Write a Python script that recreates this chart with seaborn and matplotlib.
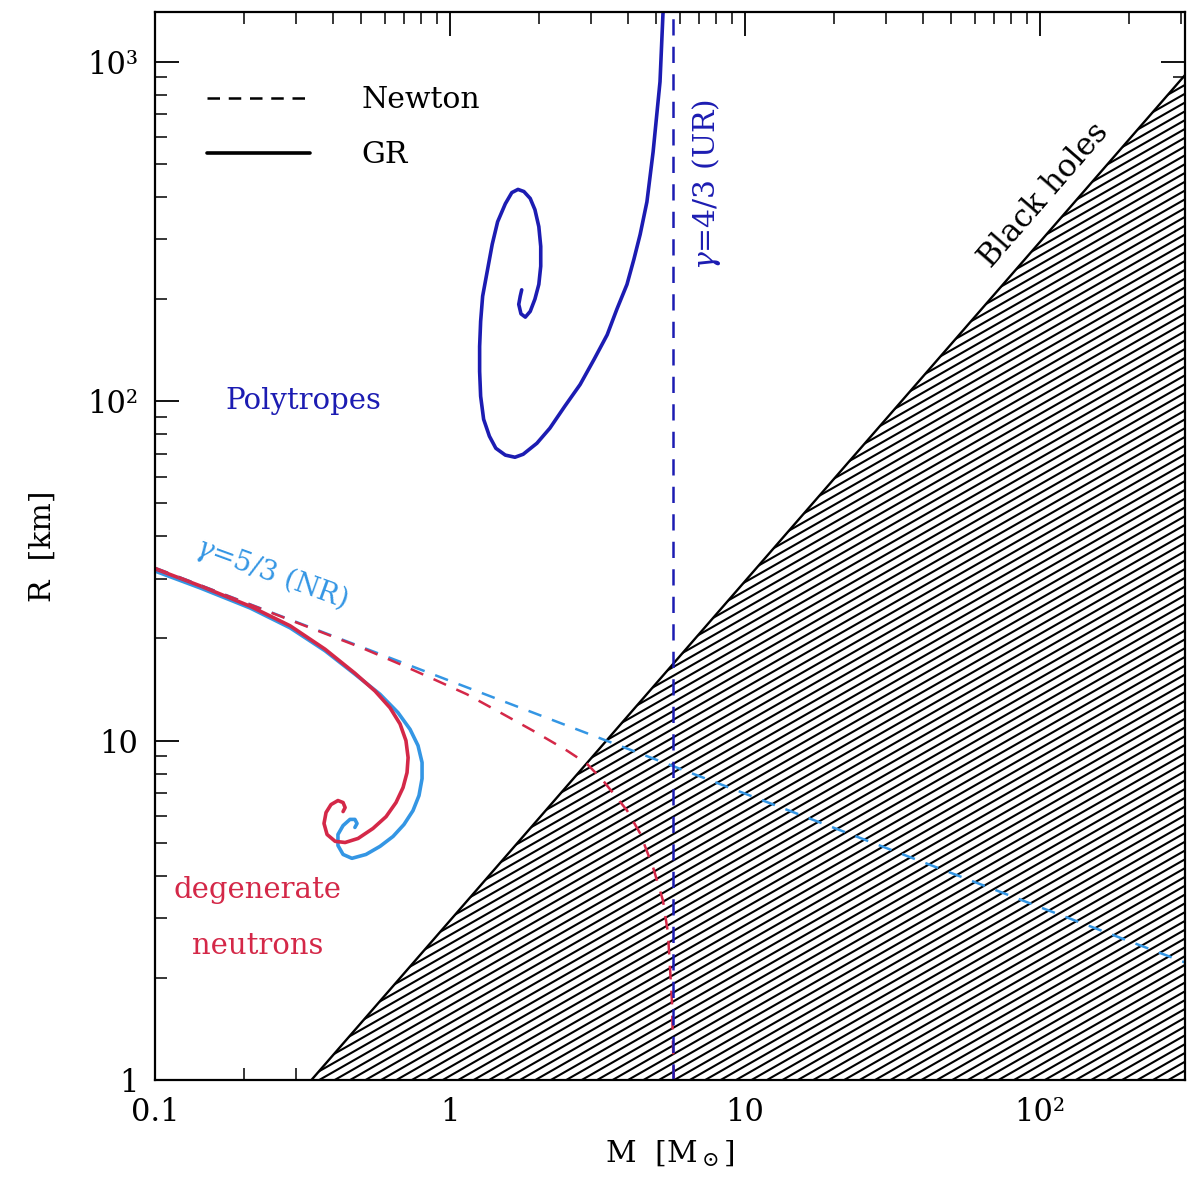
import numpy as np
import matplotlib
matplotlib.use("Agg")
import matplotlib.pyplot as plt
from matplotlib.collections import LineCollection
from matplotlib.lines import Line2D
import seaborn as sns

# ---------------- data ----------------
# GR polytrope gamma=4/3 (dark blue spiral)
ur_gr_mass = [5.35, 5.27, 5.15, 4.88, 4.65, 4.41, 4.20, 3.98, 3.68, 3.41, 3.08, 2.76, 2.45, 2.18,
              1.97, 1.77, 1.66, 1.54, 1.43, 1.36, 1.30, 1.27, 1.26, 1.26, 1.27, 1.29, 1.34, 1.39,
              1.45, 1.54, 1.62, 1.70, 1.78, 1.87, 1.94, 2.00, 2.03, 2.03, 2.00, 1.94, 1.87, 1.80,
              1.74, 1.71, 1.73, 1.75]
ur_gr_radius = [1607, 1384, 874, 543, 387, 310, 262, 221, 187, 157, 133, 112, 96.7, 83.3,
                75.2, 69.8, 68.4, 69.4, 72.7, 78.9, 88.5, 103.5, 122.5, 145, 172, 204, 244, 290,
                338, 382, 412, 421, 415, 396, 367, 327, 286, 250, 221, 200, 184, 177,
                181, 193, 204, 213]
# Newtonian gamma=4/3 (vertical line)
ur_newton_mass = [5.72, 5.72]
ur_newton_radius = [1.0, 1600]

# GR polytrope gamma=5/3 (light blue)
nr_gr_mass = [0.1, 0.142, 0.210, 0.287, 0.377, 0.476, 0.579, 0.666, 0.732, 0.779, 0.804, 0.804,
              0.785, 0.749, 0.698, 0.641, 0.579, 0.519, 0.465, 0.434, 0.417, 0.417, 0.434, 0.458,
              0.476, 0.484, 0.476]
nr_gr_radius = [31.6, 28.2, 24.6, 21.5, 18.4, 15.7, 13.7, 12.1, 10.8, 9.67, 8.62, 7.73,
                6.89, 6.22, 5.66, 5.22, 4.88, 4.62, 4.50, 4.62, 4.91, 5.29, 5.62, 5.86,
                5.86, 5.70, 5.55]
# Newtonian gamma=5/3 (light blue dashed)
nr_newton_mass = [0.1, 1, 10, 100, 310]
nr_newton_radius = [32.3, 15.0, 6.98, 3.23, 2.22]

# degenerate neutrons, GR (red)
dn_gr_mass = [0.1, 0.142, 0.210, 0.287, 0.377, 0.476, 0.557, 0.626, 0.677, 0.709, 0.721, 0.715,
              0.693, 0.656, 0.607, 0.548, 0.488, 0.441, 0.408, 0.383, 0.374, 0.380, 0.395, 0.417,
              0.434, 0.441, 0.434]
dn_gr_radius = [32.1, 28.6, 24.9, 21.8, 18.6, 15.8, 14.0, 12.5, 11.2, 10.0, 8.91, 8.05,
                7.27, 6.57, 5.97, 5.51, 5.15, 5.01, 5.05, 5.29, 5.70, 6.14, 6.48, 6.66,
                6.57, 6.35, 6.18]
# degenerate neutrons, Newton (red dashed)
dn_newton_mass = [0.1, 0.2, 0.5, 0.677, 0.876, 1.14, 1.48, 1.91, 2.49, 2.91, 3.30, 3.98,
                  4.41, 4.88, 5.27, 5.48, 5.65, 5.74]
dn_newton_radius = [32.3, 25.6, 18.8, 16.8, 15.2, 13.7, 12.1, 10.7, 9.35, 8.55, 7.63, 6.23,
                    5.33, 4.23, 3.38, 2.71, 1.72, 1.0]

# black hole (Schwarzschild) boundary
bh_mass = [0.339, 320]
bh_radius = [1.0, 944]

x_ticks = [0.1, 1, 10, 100]
x_ticklabels = ["0.1", "1", "10", "10²"]
y_ticks = [1, 10, 100, 1000]
y_ticklabels = ["1", "10", "10²", "10³"]

# ---------------- style ----------------
DARK_BLUE = "#1c1cb2"
LIGHT_BLUE = "#3496e4"
RED = "#d42848"

sns.set_theme(style="ticks")
plt.rcParams["font.family"] = ["DejaVu Serif"]
plt.rcParams["mathtext.fontset"] = "dejavuserif"
for k in ["text.color", "axes.labelcolor", "xtick.color", "ytick.color", "axes.edgecolor"]:
    plt.rcParams[k] = "black"

W, H = 1198, 1187
fig = plt.figure(figsize=(W / 100, H / 100), dpi=100, facecolor="white")
ax = fig.add_axes([155 / W, (H - 1080) / H, 1030 / W, 1068 / H])
ax.set_facecolor("white")
ax.set_xscale("log")
ax.set_yscale("log")
ax.set_xlim(0.1, 310)
ax.set_ylim(1, 1403)

# ---------------- black-hole hatched region ----------------
bh_fill = ax.fill_between(bh_mass, bh_radius, 0.3, facecolor="white", edgecolor="none", zorder=1)
clip_path = bh_fill.get_paths()[0]
slope = 0.57 * 1030 / 1068      # axes-fraction slope of hatch lines
step = 8.8 / 1068
offsets = np.arange(-1.2, 1.05, step)
segs = [[(0.0, c), (1.0, c + slope)] for c in offsets]
lc = LineCollection(segs, colors="black", linewidths=1.5, transform=ax.transAxes, zorder=1.5)
ax.add_collection(lc)
lc.set_clip_path(clip_path, ax.transData)
sns.lineplot(x=bh_mass, y=bh_radius, ax=ax, color="black", lw=1.7, sort=False, estimator=None, zorder=2)

# ---------------- curves ----------------
def curve(m, r, color, lw, dashes=None, z=3):
    sns.lineplot(x=m, y=r, ax=ax, color=color, lw=lw, sort=False, estimator=None, zorder=z)
    ln = ax.get_lines()[-1]
    ln.set_solid_joinstyle("round")
    ln.set_solid_capstyle("round")
    if dashes is not None:
        ln.set_dashes(dashes)

curve(nr_gr_mass, nr_gr_radius, LIGHT_BLUE, 2.6, z=3)
curve(dn_gr_mass, dn_gr_radius, RED, 2.6, z=3.1)
curve(ur_gr_mass, ur_gr_radius, DARK_BLUE, 2.6, z=3.2)
curve(nr_newton_mass, nr_newton_radius, LIGHT_BLUE, 1.8, dashes=(5.5, 4.5), z=4)
curve(dn_newton_mass, dn_newton_radius, RED, 1.8, dashes=(5.5, 4.5), z=4.1)
curve(ur_newton_mass, ur_newton_radius, DARK_BLUE, 1.8, dashes=(6.5, 4.5), z=4.2)

# ---------------- annotations ----------------
ax.text(0.318, 100, "Polytropes", color=DARK_BLUE, fontsize=21, ha="center", va="center")
ax.text(0.249, 31.2, r"$\gamma$=5/3 (NR)", color=LIGHT_BLUE, fontsize=20, ha="center", va="center",
        rotation=-20, rotation_mode="anchor")
ax.text(7.38, 435, r"$\gamma$=4/3 (UR)", color=DARK_BLUE, fontsize=21.5, ha="center", va="center",
        rotation=90, rotation_mode="anchor")
ax.text(103, 406, "Black holes", color="black", fontsize=22.5, ha="center", va="center",
        rotation=49, rotation_mode="anchor")
ax.text(0.223, 3.62, "degenerate", color=RED, fontsize=21, ha="center", va="center")
ax.text(0.223, 2.49, "neutrons", color=RED, fontsize=21, ha="center", va="center")

# legend
handles = [Line2D([], [], color="black", lw=1.8, dashes=(5, 3.5)),
           Line2D([], [], color="black", lw=2.6)]
leg = ax.legend(handles, ["Newton", "GR"], loc="upper left", bbox_to_anchor=(0.05, 0.9306),
                frameon=False, fontsize=21.5, handlelength=3.45, handletextpad=1.75,
                labelspacing=0.9, borderpad=0, borderaxespad=0)

# ---------------- axes cosmetics ----------------
ax.set_xticks(x_ticks)
ax.set_xticklabels(x_ticklabels)
ax.set_yticks(y_ticks)
ax.set_yticklabels(y_ticklabels)
ax.tick_params(which="both", direction="in", top=True, right=True, color="black", labelcolor="black")
ax.tick_params(which="major", length=17, width=1.3, labelsize=22, pad=12)
ax.tick_params(which="minor", length=8.5, width=1.1)
for s in ax.spines.values():
    s.set_linewidth(1.6)
    s.set_color("black")
    s.set_zorder(6)
ax.set_xlabel(r"M  [M$_\odot$]", fontsize=21.5, labelpad=8, color="black")
ax.set_ylabel("R  [km]", fontsize=21.5, labelpad=22, color="black")

fig.savefig("out.png", dpi=100, facecolor="white")
